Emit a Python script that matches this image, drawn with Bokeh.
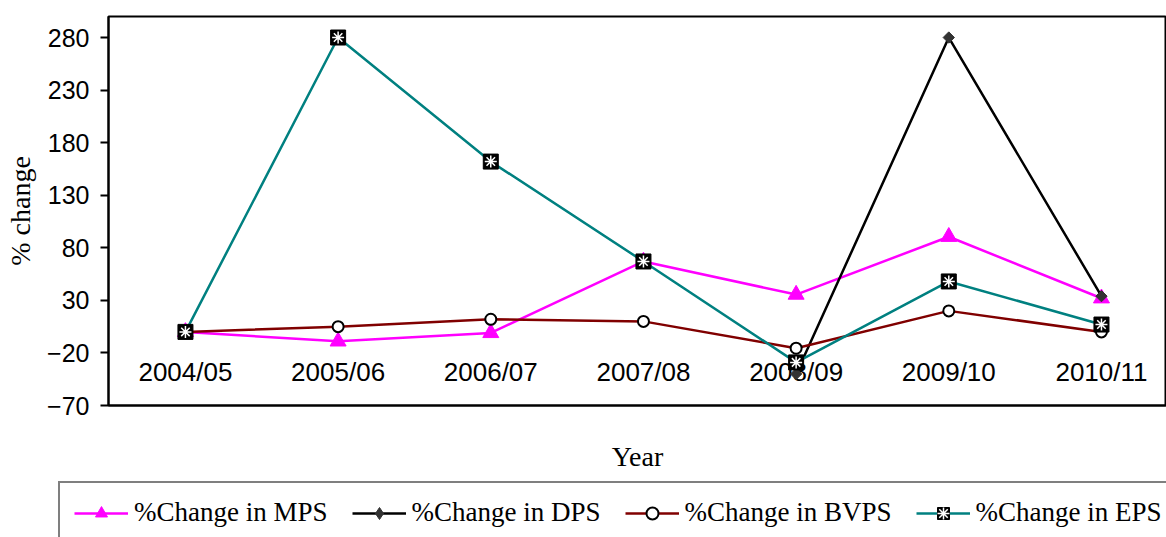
import numpy as np
from bokeh.plotting import figure
from bokeh.models import Range1d, FixedTicker, Legend, LegendItem
from bokeh.core.properties import value
from bokeh.embed import file_html
from bokeh.resources import INLINE

years = ["2004/05", "2005/06", "2006/07", "2007/08", "2008/09", "2009/10", "2010/11"]
mps = [0, -9, -1, 67, 35.5, 90.5, 32]
dps = [np.nan, np.nan, np.nan, np.nan, -40, 280, 34]
bvps = [0, 5, 12, 10, -15.5, 20, 0]
eps = [0, 280, 162, 67, -29, 48, 7]
y_ticks = [-70, -20, 30, 80, 130, 180, 230, 280]
labels = ["%Change in MPS", "%Change in DPS", "%Change in BVPS", "%Change in EPS"]

idx = list(range(len(years)))

MPS_C, DPS_C, BVPS_C, EPS_C = "#FF00FF", "#000000", "#800000", "#008080"
LW = 2.5

p = figure(width=1166, height=480, x_range=Range1d(-0.504, 6.426), y_range=Range1d(-70, 300),
           output_backend="svg", toolbar_location=None,
           min_border_left=108, min_border_right=0, min_border_top=16, min_border_bottom=75)
p.xgrid.visible = False
p.ygrid.visible = False
p.outline_line_color = "black"
p.outline_line_width = 2

ya = p.yaxis[0]
ya.ticker = FixedTicker(ticks=y_ticks)
ya.major_tick_out = 8
ya.major_tick_in = 0
ya.minor_tick_out = 0
ya.minor_tick_in = 0
ya.axis_line_width = 2
ya.major_tick_line_width = 2
ya.major_label_text_font = "Liberation Sans"
ya.major_label_text_font_size = "25px"
ya.major_label_text_color = "black"
ya.major_label_standoff = 11
ya.axis_label = "% change"
ya.axis_label_text_font = "Liberation Serif"
ya.axis_label_text_font_style = "normal"
ya.axis_label_text_font_size = "28px"
ya.axis_label_text_color = "black"
ya.axis_label_standoff = 8

xa = p.xaxis[0]
xa.ticker = FixedTicker(ticks=[])
xa.major_tick_out = 0
xa.major_tick_in = 0
xa.minor_tick_out = 0
xa.minor_tick_in = 0
xa.axis_line_width = 2
xa.major_label_text_font_size = "0px"
xa.axis_label = "Year"
xa.axis_label_text_font = "Liberation Serif"
xa.axis_label_text_font_style = "normal"
xa.axis_label_text_font_size = "28px"
xa.axis_label_text_color = "black"
xa.axis_label_standoff = 35

p.text(x=idx, y=[0] * len(idx), text=years, text_align="center", text_baseline="top",
       y_offset=25, text_font=value("Liberation Sans"), text_font_size="26px", text_color="black")

# MPS
p.line(idx, mps, line_color=MPS_C, line_width=LW)
p.scatter(idx, mps, marker="triangle", size=16, fill_color=MPS_C, line_color=MPS_C)
# DPS
p.line(idx, dps, line_color=DPS_C, line_width=LW)
p.scatter(idx, dps, marker="square", angle=np.pi / 4, size=8, fill_color="#333333", line_color="#333333")
# BVPS
p.line(idx, bvps, line_color=BVPS_C, line_width=LW)
p.scatter(idx, bvps, marker="circle", size=11, fill_color="white", line_color="black", line_width=2)
# EPS
p.line(idx, eps, line_color=EPS_C, line_width=LW)
p.scatter(idx, eps, marker="square", size=15, fill_color="black", line_color="black")
p.scatter(idx, eps, marker="asterisk", size=12, line_color="white", line_width=1.5)

# Legend strip below the chart (separate root so it is not frame-aligned)
lg = figure(width=1166, height=57, x_range=Range1d(0, 1), y_range=Range1d(0, 1),
            x_axis_location=None, y_axis_location=None, output_backend="svg",
            toolbar_location=None, min_border=0, min_border_left=0, min_border_right=0,
            min_border_top=0, min_border_bottom=0, outline_line_color=None)
lg.grid.visible = False
e = [np.nan]
r1 = [lg.line(e, e, line_color=MPS_C, line_width=LW),
      lg.scatter(e, e, marker="triangle", fill_color=MPS_C, line_color=MPS_C)]
r2 = [lg.line(e, e, line_color=DPS_C, line_width=LW),
      lg.scatter(e, e, marker="diamond", fill_color="#333333", line_color="#333333")]
r3 = [lg.line(e, e, line_color=BVPS_C, line_width=LW),
      lg.scatter(e, e, marker="circle", fill_color="white", line_color="black", line_width=2)]
r4 = [lg.line(e, e, line_color=EPS_C, line_width=LW),
      lg.scatter(e, e, marker="square", fill_color="black", line_color="black"),
      lg.scatter(e, e, marker="asterisk", line_color="white", line_width=1.5)]

legend = Legend(items=[LegendItem(label=lab, renderers=rs) for lab, rs in zip(labels, [r1, r2, r3, r4])],
                orientation="horizontal", location=(58, -7))
legend.label_text_font = "Liberation Serif"
legend.label_text_font_size = "27px"
legend.label_text_color = "black"
legend.label_height = 30
legend.glyph_width = 54
legend.glyph_height = 30
legend.label_standoff = 6
legend.spacing = 24
legend.padding = 14
legend.margin = 0
legend.border_line_color = "black"
legend.border_line_width = 2
legend.background_fill_color = "white"
legend.background_fill_alpha = 1
lg.add_layout(legend, "center")

open("out.html", "w").write(file_html([p, lg], INLINE))
